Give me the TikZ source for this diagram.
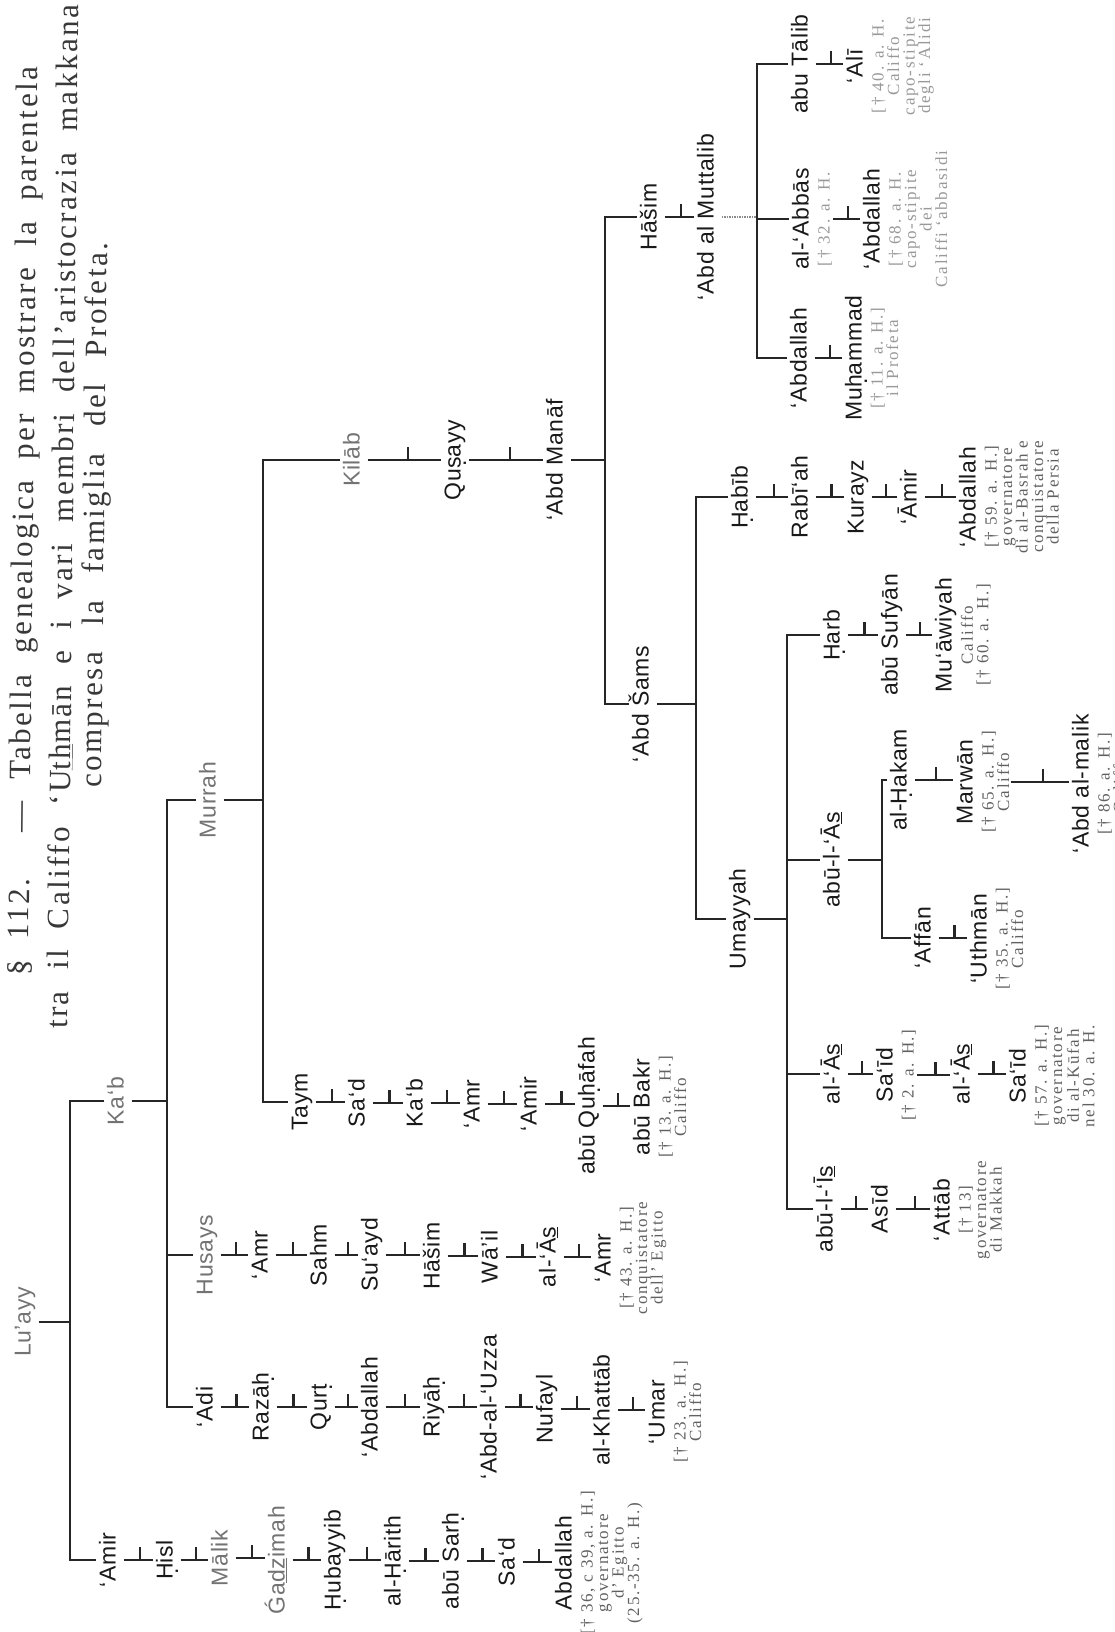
\documentclass[tikz,border=0pt]{standalone}
\usepackage{fontspec}
\setmainfont{Liberation Serif}
\newfontfamily\nmfont[LetterSpace=3]{Liberation Sans}
\newfontfamily\ttlfont[LetterSpace=8]{Liberation Serif}
\newfontfamily\anfont[LetterSpace=10]{Liberation Serif}
\newcommand\ud[1]{\oalign{#1\crcr\hidewidth.\hidewidth}}
\newcommand\usub[1]{\underline{#1}}
\newcommand\lnk[2]{\draw[ln] (#1.south) -- coordinate[pos=0.55] (tkc) (#2.north |- #1.south); \draw[tk] (tkc) -- ([yshift=13pt]tkc);}
\newcommand\lnkx[3]{\draw[ln] (#1.south |- #2) -- coordinate[pos=0.55] (tkc) (#3.north |- #2); \draw[tk] (tkc) -- ([yshift=13pt]tkc);}
\begin{document}
\begin{tikzpicture}[x=1pt,y=-1pt,
  nm/.style={rotate=90, font=\nmfont\fontsize{23}{25}\selectfont, inner sep=3pt, text height=16pt, text depth=5pt, text=black!90},
  lt/.style={text=black!55},
  ann/.style={rotate=90, font=\anfont\fontsize{17}{15.5}\selectfont, align=center, inner sep=1pt, text=black!62, anchor=north},
  fa/.style={text=black!40},
  ln/.style={line width=1.5pt, black!85},
  tk/.style={line width=2.2pt, black!85},
  ttl/.style={rotate=89.4, font=\ttlfont\fontsize{31}{36}\selectfont, text=black!78, anchor=west, inner sep=0pt},
]
\fill[white] (0,0) rectangle (1115,1632);
\useasboundingbox (0,0) rectangle (1115,1632);

% ---------- title ----------
\node[ttl] (t1) at (21,976) {\makebox[909pt][s]{§ 112. — Tabella genealogica per mostrare la parentela}};
\node[ttl] (t2) at (58,1029) {\makebox[1024pt][s]{tra il Califfo ‘U\underline{th}mān e i vari membri dell’aristocrazia makkana}};
\node[ttl] (t3) at (94,788) {\makebox[545pt][s]{compresa la famiglia del Profeta.}};

% ---------- Lu'ayy ----------
\node[nm,lt] (lu) at (25,1322) {Lu’ayy};
\node[nm,lt] (kab) at (118,1101) {Ka‘b};

% 'Amir line
\node[nm] (amA) at (110,1560) {‘Amir};
\node[nm] (hisl) at (167,1560) {\ud{H}isl};
\node[nm,lt] (malik) at (222,1558) {Mālik};
\node[nm,lt] (gadz) at (279,1560) {Ǵa\usub{dz}imah};
\node[nm] (hubay) at (335,1560) {\ud{H}ubayyib};
\node[nm] (harith) at (395,1561) {al-\ud{H}ārith};
\node[nm] (sarh) at (453,1561) {abū Sar\ud{h}};
\node[nm] (sad1) at (509,1562) {Sa‘d};
\node[nm] (abd1) at (566,1563) {Abdallah};
\node[ann] (abd1a) at (abd1.south) {{[}† 36, c 39, a. H.]\\governatore\\d’ Egitto\\(25.-35. a. H.)};

% Ka'b children
\node[nm,lt] (murrah) at (210,800) {Murrah};
\node[nm,lt] (husays) at (207,1255) {Husays};
\node[nm] (adi) at (207,1407) {‘Adi};

% 'Adi line
\node[nm] (razah) at (263,1407) {Razā\ud{h}};
\node[nm] (qurt) at (321,1407) {Qur\ud{t}};
\node[nm] (abd2) at (372,1407) {‘Abdallah};
\node[nm] (riyah) at (434,1407) {Riyā\ud{h}};
\node[nm] (abduz) at (491,1407) {‘Abd-al-‘Uzza};
\node[nm] (nufayl) at (547,1409) {Nufayl};
\node[nm] (khattab) at (604,1410) {al-Khattāb};
\node[nm] (umar) at (659,1412) {‘Umar};
\node[ann] (umara) at (umar.south) {{[}† 23. a. H.]\\Califfo};

% Husays line
\node[nm] (amr1) at (262,1255) {‘Amr};
\node[nm] (sahm) at (321,1255) {Sahm};
\node[nm] (suayd) at (372,1255) {Su‘ayd};
\node[nm] (hasim1) at (434,1256) {Hāšim};
\node[nm] (wail) at (492,1257) {Wā’il};
\node[nm] (as1) at (550,1257) {al-‘Ā\usub{s}};
\node[nm] (amr2) at (605,1258) {‘Amr};
\node[ann] (amr2a) at (amr2.south) {{[}† 43. a. H.]\\conquistatore\\dell’ Egitto};

% Murrah children
\node[nm,lt] (kilab) at (354,460) {Kilāb};
\node[nm] (taym) at (302,1102) {Taym};
\node[nm] (sad2) at (359,1103) {Sa‘d};
\node[nm] (kab2) at (417,1103) {Ka‘b};
\node[nm] (amr3) at (474,1104) {‘Amr};
\node[nm] (amir2) at (531,1104) {‘Amir};
\node[nm] (quhafah) at (589,1106) {abū Qu\ud{h}āfah};
\node[nm] (bakr) at (644,1107) {abū Bakr};
\node[ann] (bakra) at (bakr.south) {{[}† 13. a. H.]\\Califfo};

% Qusayy line
\node[nm] (qusayy) at (455,460) {Qu\ud{s}ayy};
\node[nm] (manaf) at (557,460) {‘Abd Manāf};

% Hasim branch
\node[nm] (hasim2) at (651,217) {Hāšim};
\node[nm] (muttalib) at (708,217) {‘Abd al Muttalib};
\node[nm] (talib) at (802,64) {abu Tālib};
\node[nm] (ali) at (857,66) {‘Alī};
\node[ann,fa] (alia) at (ali.south) {{[}† 40. a. H.\\Califfo\\capo-stipite\\degli ‘Alidi};
\node[nm] (abbas) at (803,219) {al-‘Abbās};
\node[ann,fa] (abbasa) at (abbas.south) {{[}† 32. a. H.};
\node[nm] (abd3) at (874,219) {‘Abdallah};
\node[ann,fa] (abd3a) at (abd3.south) {{[}† 68. a. H.\\capo-stipite\\dei\\Califfi ‘abbasidi};
\node[nm] (abd4) at (801,358) {‘Abdallah};
\node[nm] (muhammad) at (856,358) {Mu\ud{h}ammad};
\node[ann,fa] (muhammada) at (muhammad.south) {{[}† 11. a. H.]\\il Profeta};

% 'Abd Sams branch
\node[nm] (sams) at (643,704) {‘Abd Šams};
\node[nm] (habib) at (742,497) {\ud{H}abīb};
\node[nm] (rabiah) at (802,497) {Rabī‘ah};
\node[nm] (kurayz) at (858,497) {Kurayz};
\node[nm] (amir3) at (911,497) {‘Āmir};
\node[nm] (abd5) at (970,497) {‘Abdallah};
\node[ann] (abd5a) at (abd5.south) {{[}† 59. a. H.]\\governatore\\di al-Basrah e\\conquistatore\\della Persia};

\node[nm] (umayyah) at (740,919) {Umayyah};
\node[nm] (harb) at (834,635) {\ud{H}arb};
\node[nm] (sufyan) at (892,635) {abū Sufyān};
\node[nm] (muawiyah) at (946,635) {Mu‘āwiyah};
\node[ann] (muawiyaha) at (muawiyah.south) {Califfo\\{[}† 60. a. H.]};

\node[nm] (abulas) at (834,860) {abū-l-‘Ā\usub{s}};
\node[nm] (hakam) at (901,780) {al-\ud{H}akam};
\node[nm] (marwan) at (967,782) {Marwān};
\node[ann] (marwana) at (marwan.south) {{[}† 65. a. H.]\\Califfo};
\node[nm] (abdmalik) at (1083,784) {‘Abd al-malik};
\node[ann] (abdmalika) at (abdmalik.south) {{[}† 86. a. H.]\\Califfo};
\node[nm] (affan) at (925,938) {‘Affān};
\node[nm] (uthman) at (981,939) {‘Uthmān};
\node[ann] (uthmana) at (uthman.south) {{[}† 35. a. H.]\\Califfo};

\node[nm] (as2) at (834,1074) {al-‘Ā\usub{s}};
\node[nm] (said1) at (887,1075) {Sa‘īd};
\node[ann] (said1a) at (said1.south) {{[}† 2. a. H.]};
\node[nm] (as3) at (964,1074) {al-‘Ā\usub{s}};
\node[nm] (said2) at (1020,1076) {Sa‘īd};
\node[ann] (said2a) at (said2.south) {{[}† 57. a. H.]\\governatore\\di al-Kūfah\\nel 30. a. H.};

\node[nm] (abulis) at (827,1209) {abū-l-‘Ī\usub{s}};
\node[nm] (asid) at (882,1209) {Asīd};
\node[nm] (attab) at (944,1210) {‘Attāb};
\node[ann] (attaba) at (attab.south) {{[}† 13]\\governatore\\di Makkah};

% ---------- bars ----------
\coordinate (bLu) at (70,0);
\draw[ln] (lu.south) -- (lu.south -| bLu);
\draw[ln] (kab.north) -| (bLu |- amA) -- (amA.north);

\coordinate (bKab) at (167,0);
\draw[ln] (kab.south) -- (kab.south -| bKab);
\draw[ln] (murrah.north) -| (bKab |- adi) -- (adi.north);
\draw[ln] (bKab |- husays) -- (husays.north);

\coordinate (bMur) at (263,0);
\draw[ln] (murrah.south) -- (murrah.south -| bMur);
\draw[ln] (kilab.north) -| (bMur |- taym) -- (taym.north);

\coordinate (bMan) at (605,0);
\draw[ln] (manaf.south) -- (manaf.south -| bMan);
\draw[ln] (hasim2.north) -| (bMan |- sams) -- (sams.north);

\coordinate (bMut) at (757,0);
\draw[ln, densely dotted, black!45] (muttalib.south) -- (muttalib.south -| bMut);
\draw[ln] (talib.north) -| (bMut |- abd4) -- (abd4.north);
\draw[ln] (bMut |- abbas) -- (abbas.north);

\coordinate (bSam) at (696,0);
\draw[ln] (sams.south) -- (sams.south -| bSam);
\draw[ln] (habib.north) -| (bSam |- umayyah) -- (umayyah.north);

\coordinate (bUma) at (787,0);
\draw[ln] (umayyah.south) -- (umayyah.south -| bUma);
\draw[ln] (harb.north) -| (bUma |- abulis) -- (abulis.north);
\draw[ln] (bUma |- abulas) -- (abulas.north);
\draw[ln] (bUma |- as2) -- (as2.north);

\coordinate (bAbu) at (882,0);
\draw[ln] (abulas.south) -- (abulas.south -| bAbu);
\draw[ln] (hakam.north) -| (bAbu |- affan) -- (affan.north);

% ---------- chains ----------
\lnk{amA}{hisl}\lnk{hisl}{malik}\lnk{malik}{gadz}\lnk{gadz}{hubay}
\lnk{hubay}{harith}\lnk{harith}{sarh}\lnk{sarh}{sad1}\lnk{sad1}{abd1}
\lnk{adi}{razah}\lnk{razah}{qurt}\lnk{qurt}{abd2}\lnk{abd2}{riyah}
\lnk{riyah}{abduz}\lnk{abduz}{nufayl}\lnk{nufayl}{khattab}\lnk{khattab}{umar}
\lnk{husays}{amr1}\lnk{amr1}{sahm}\lnk{sahm}{suayd}\lnk{suayd}{hasim1}
\lnk{hasim1}{wail}\lnk{wail}{as1}\lnk{as1}{amr2}
\lnk{taym}{sad2}\lnk{sad2}{kab2}\lnk{kab2}{amr3}\lnk{amr3}{amir2}
\lnk{amir2}{quhafah}\lnk{quhafah}{bakr}
\lnk{kilab}{qusayy}\lnk{qusayy}{manaf}
\lnk{hasim2}{muttalib}
\lnk{talib}{ali}\lnkx{abbasa}{abbas}{abd3}\lnk{abd4}{muhammad}
\lnk{habib}{rabiah}\lnk{rabiah}{kurayz}\lnk{kurayz}{amir3}\lnk{amir3}{abd5}
\lnk{harb}{sufyan}\lnk{sufyan}{muawiyah}
\lnk{hakam}{marwan}\lnkx{marwana}{marwan}{abdmalik}
\lnk{affan}{uthman}
\lnk{as2}{said1}\lnkx{said1a}{said1}{as3}\lnk{as3}{said2}
\lnk{abulis}{asid}\lnk{asid}{attab}
\end{tikzpicture}
\end{document}
